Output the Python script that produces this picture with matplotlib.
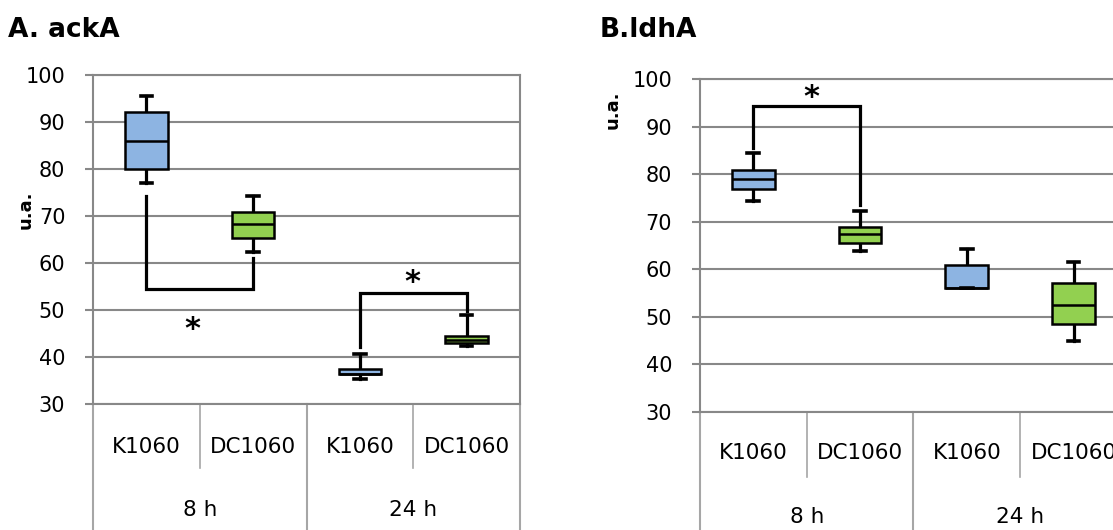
import matplotlib.pyplot as plt
from matplotlib.lines import Line2D

# category axis
samples = ["K1060", "DC1060", "K1060", "DC1060"]
times = ["8 h", "24 h"]
fills = ["#8DB4E2", "#92D050", "#8DB4E2", "#92D050"]

# A. ackA  (whisker low, q1, median, q3, whisker high)
ack_lo = [77.1, 62.4, 35.4, 42.3]
ack_q1 = [79.9, 65.3, 36.3, 42.9]
ack_med = [85.9, 68.2, 36.3, 43.7]
ack_q3 = [92.2, 70.8, 37.4, 44.5]
ack_hi = [95.6, 74.2, 40.7, 49.0]

# B. ldhA
ldh_lo = [74.3, 63.9, 56.0, 44.9]
ldh_q1 = [76.9, 65.5, 56.0, 48.4]
ldh_med = [79.0, 67.4, 56.0, 52.6]
ldh_q3 = [80.9, 68.9, 60.9, 57.1]
ldh_hi = [84.4, 72.3, 64.3, 61.6]

grid_c = "#888888"
div_c = "#a6a6a6"


def panel(ax, lo, q1, med, q3, hi, sub_y, grp_y, div_y):
    stats = []
    for i in range(4):
        stats.append(dict(whislo=lo[i], q1=q1[i], med=med[i], q3=q3[i], whishi=hi[i]))
    bp = ax.bxp(stats, positions=[1, 2, 3, 4], widths=0.4, capwidths=0.11,
                showfliers=False, patch_artist=True,
                boxprops=dict(linewidth=1.8, edgecolor="black"),
                medianprops=dict(color="black", linewidth=1.8),
                whiskerprops=dict(color="black", linewidth=2.3),
                capprops=dict(color="black", linewidth=2.6))
    for patch, c in zip(bp["boxes"], fills):
        patch.set_facecolor(c)
    for w in bp["whiskers"]:
        w.set_zorder(1.5)

    ax.set_xlim(0.5, 4.5)
    ax.set_ylim(30, 100)
    ax.set_yticks(range(30, 101, 10))
    ax.yaxis.grid(True, color=grid_c, linewidth=1.5)
    ax.set_axisbelow(True)
    ax.set_xticks([])
    for s in ax.spines.values():
        s.set_color(grid_c)
        s.set_linewidth(1.5)
    ax.tick_params(axis="y", length=6, width=1.5, color=grid_c, pad=14, labelsize=15)

    tr = ax.get_xaxis_transform()
    for i, lab in enumerate(samples):
        ax.text(i + 1, sub_y, lab, transform=tr, ha="center", va="center", fontsize=15.5)
    for i, lab in enumerate(times):
        ax.text(1.5 + 2 * i, grp_y, lab, transform=tr, ha="center", va="center", fontsize=15.5)
    for x in [1.5, 3.5]:
        ax.add_line(Line2D([x, x], [0, div_y], transform=tr, color=div_c, lw=1.2, clip_on=False))
    for x in [0.5, 2.5, 4.5]:
        ax.add_line(Line2D([x, x], [0, -0.5], transform=tr, color=div_c, lw=1.5, clip_on=False))


fig = plt.figure(figsize=(11.13, 5.30), dpi=100)
ax1 = fig.add_axes([0.0836, 0.2377, 0.3836, 0.6208])
ax2 = fig.add_axes([0.6289, 0.2226, 0.3836, 0.6283])

panel(ax1, ack_lo, ack_q1, ack_med, ack_q3, ack_hi, -0.131, -0.322, -0.195)
panel(ax2, ldh_lo, ldh_q1, ldh_med, ldh_q3, ldh_hi, -0.123, -0.315, -0.195)

# significance brackets
ax1.plot([1, 1, 2, 2], [74.3, 54.5, 54.5, 61.1], color="black", lw=2.3, solid_joinstyle="miter")
ax1.text(1.43, 45.8, "*", ha="center", va="center", fontsize=22, fontweight="bold")
ax1.plot([3, 3, 4, 4], [42.2, 53.7, 53.7, 49.7], color="black", lw=2.3, solid_joinstyle="miter")
ax1.text(3.49, 55.8, "*", ha="center", va="center", fontsize=22, fontweight="bold")
ax2.plot([1, 1, 2, 2], [85.4, 94.3, 94.3, 73.6], color="black", lw=2.3, solid_joinstyle="miter")
ax2.text(1.54, 96.2, "*", ha="center", va="center", fontsize=22, fontweight="bold")

fig.text(8 / 1113, 1 - 30 / 530, "A. ackA", fontsize=19, fontweight="bold", va="center")
fig.text(600 / 1113, 1 - 30 / 530, "B.ldhA", fontsize=19, fontweight="bold", va="center")
fig.text(26 / 1113, 1 - 210 / 530, "u.a.", fontsize=13, fontweight="bold", rotation=90,
         ha="center", va="center")
fig.text(613 / 1113, 1 - 110 / 530, "u.a.", fontsize=13, fontweight="bold", rotation=90,
         ha="center", va="center")

fig.savefig("out.png", dpi=100)
